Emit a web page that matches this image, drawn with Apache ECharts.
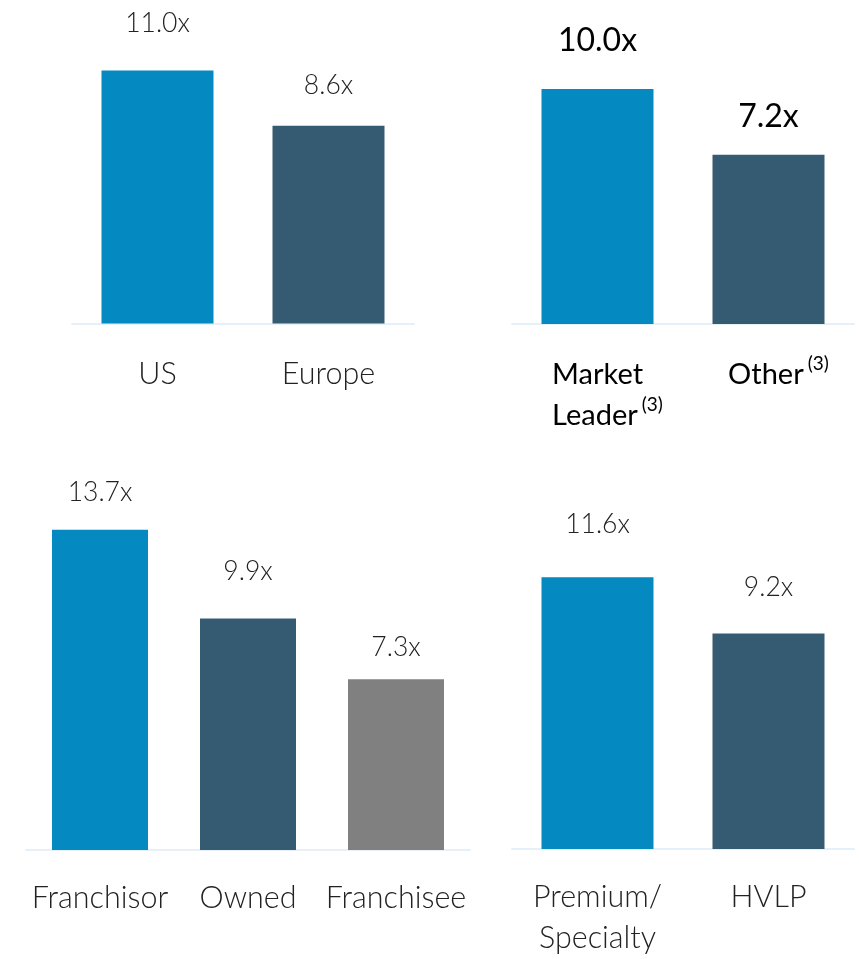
<!DOCTYPE html>
<html>
<head>
<meta charset="utf-8">
<script src="https://cdn.jsdelivr.net/npm/echarts@6/dist/echarts.min.js"></script>
<style>
html,body{margin:0;padding:0;background:#fff;}
#c{width:859px;height:959px;}
</style>
</head>
<body>
<div id="c"></div>
<script>
// ---- data ----
const regionCats = ['US', 'Europe'];
const regionVals = [11.0, 8.6];

const positionCats = ['Market\nLeader', 'Other'];
const positionVals = [10.0, 7.2];
const positionNotes = ['(3)', '(3)'];

const modelCats = ['Franchisor', 'Owned', 'Franchisee'];
const modelVals = [13.7, 9.9, 7.3];

const segmentCats = ['Premium/\nSpecialty', 'HVLP'];
const segmentVals = [11.6, 9.2];

// ---- styles ----
const BLUE = '#0589c1', DARK = '#355b73', GREY = '#808080';
const colors1 = [BLUE, DARK];
const colors3 = [BLUE, DARK, GREY];
const gap1 = [34, 27];
const gap2 = [32, 22];
const gap3 = [24, 34, 18];
const gap4 = [39, 33];

const LIGHT_FONT = 'Lato';
const lightText = {fontFamily: LIGHT_FONT, fontWeight: 300, color: '#222222'};

function mkData(vals, cols, gaps) {
  return vals.map((v, i) => ({
    value: v,
    itemStyle: {color: cols[i]},
    label: {distance: gaps[i]}
  }));
}

function fmtX(p) { return p.value.toFixed(1) + 'x'; }

const grids = [
  {left: 72, width: 342, top: 1.5, height: 322},
  {left: 512, width: 342, top: 18.5, height: 305.5},
  {left: 26, width: 444, top: 476, height: 374},
  {left: 512, width: 342, top: 521, height: 329}
];
const maxes = [14, 13, 16, 14];
const catsList = [regionCats, positionCats, modelCats, segmentCats];

const axisLineStyle = {show: true, lineStyle: {color: '#e6f0f9', width: 2}};

const xAxes = catsList.map((cats, i) => ({
  type: 'category', gridIndex: i, data: cats,
  axisLine: axisLineStyle, axisTick: {show: false},
  axisLabel: Object.assign({fontSize: 30.5, lineHeight: 41, margin: i < 2 ? 30 : 28, interval: 0}, lightText)
}));
// panel 2: regular weight, black, left-aligned lines with superscript notes
xAxes[1].axisLabel = {
  interval: 0, margin: 30, padding: [0, 0, 0, 20],
  formatter: function (v, idx) {
    const lines = v.split('\n');
    return lines.map((l, k) => '{t|' + l + '}' + (k === lines.length - 1 ? '{sup|' + positionNotes[idx] + '}' : '')).join('\n');
  },
  rich: {
    t: {fontFamily: 'Lato', fontWeight: 400, fontSize: 29, lineHeight: 41, color: '#000', align: 'left'},
    sup: {fontFamily: 'Lato', fontWeight: 400, fontSize: 19, lineHeight: 28, color: '#000', align: 'left', verticalAlign: 'top', padding: [0, 0, 0, 4]}
  }
};

const yAxes = maxes.map((m, i) => ({
  type: 'value', gridIndex: i, min: 0, max: m, show: false, splitLine: {show: false}
}));

const valLabel = Object.assign({show: true, position: 'top', fontSize: 26.5, formatter: fmtX}, lightText);
const valLabel2 = {show: true, position: 'top', fontSize: 32, fontFamily: 'Lato', fontWeight: 400, color: '#000', formatter: fmtX};

const series = [
  {type: 'bar', xAxisIndex: 0, yAxisIndex: 0, barWidth: 112, data: mkData(regionVals, colors1, gap1), label: valLabel},
  {type: 'bar', xAxisIndex: 1, yAxisIndex: 1, barWidth: 112, data: mkData(positionVals, colors1, gap2), label: valLabel2},
  {type: 'bar', xAxisIndex: 2, yAxisIndex: 2, barWidth: 96, data: mkData(modelVals, colors3, gap3), label: valLabel},
  {type: 'bar', xAxisIndex: 3, yAxisIndex: 3, barWidth: 112, data: mkData(segmentVals, colors1, gap4), label: valLabel}
].map(s => Object.assign(s, {silent: true, animation: false}));

const chart = echarts.init(document.getElementById('c'));
chart.setOption({
  animation: false,
  grid: grids,
  xAxis: xAxes,
  yAxis: yAxes,
  series: series
});
</script>
</body>
</html>
